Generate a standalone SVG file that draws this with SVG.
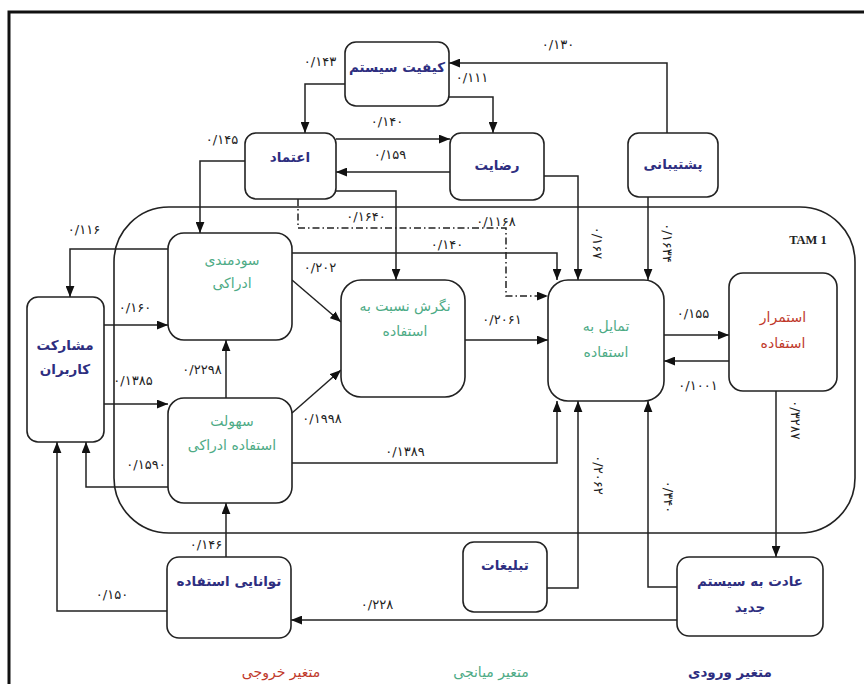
<svg xmlns="http://www.w3.org/2000/svg" width="864" height="684" viewBox="0 0 864 684">
<defs>
<marker id="ah" viewBox="0 0 10 8" refX="10" refY="4" markerWidth="11" markerHeight="9" markerUnits="userSpaceOnUse" orient="auto"><path d="M0,0 L10,4 L0,8 z" fill="#111"/></marker>
<style>
.box{fill:#fff;stroke:#222;stroke-width:1.6}
.c{fill:none;stroke:#222;stroke-width:1.5;marker-end:url(#ah)}
.dd{fill:none;stroke:#222;stroke-width:1.5;stroke-dasharray:7 3 1.5 3;marker-end:url(#ah)}
.lb{font-family:"DejaVu Sans",sans-serif;font-size:13px;fill:#222;text-anchor:middle}
.t{font-family:"DejaVu Sans",sans-serif;font-size:13.5px;font-weight:bold;text-anchor:middle}
.nv{fill:#2e2e80}
.gr{fill:#4eab86;font-weight:normal;font-size:14px}
.rd{fill:#c0392b;font-weight:normal;font-size:14px}
</style>
</defs>
<rect x="0" y="0" width="864" height="684" fill="#fff"/>
<path d="M9,684 V12 H864" fill="none" stroke="#111" stroke-width="3"/>
<rect x="114" y="207" width="741" height="326" rx="55" fill="none" stroke="#222" stroke-width="1.6"/>
<text x="808" y="244" font-family="Liberation Serif,serif" font-size="12.5" font-weight="bold" text-anchor="middle" fill="#222">TAM 1</text>

<g id="connectors">
<path class="c" d="M667,133 V63 H449"/>
<path class="c" d="M345,84 H305 V133"/>
<path class="c" d="M449,97 H493 V133"/>
<path class="c" d="M336,139 H450"/>
<path class="c" d="M450,172 H336"/>
<path class="c" d="M245,161 H200 V233"/>
<path class="c" d="M336,191 H396 V280"/>
<path class="dd" d="M298,199 V228 H506 V296 H548"/>
<path class="c" d="M544,176 H578 V280"/>
<path class="c" d="M648,197 V280"/>
<path class="c" d="M292,253 H557 V280"/>
<path class="c" d="M168,249 H70 V297"/>
<path class="c" d="M292,280 L341,322"/>
<path class="c" d="M292,413 L341,370"/>
<path class="c" d="M465,340 H548"/>
<path class="c" d="M104,325 H168"/>
<path class="c" d="M104,404 H168"/>
<path class="c" d="M226,398 V340"/>
<path class="c" d="M292,463 H557 V401"/>
<path class="c" d="M168,487 H86 V442"/>
<path class="c" d="M167,611 H57 V442"/>
<path class="c" d="M226,557 V503"/>
<path class="c" d="M664,335 H729"/>
<path class="c" d="M729,361 H664"/>
<path class="c" d="M776,391 V557"/>
<path class="c" d="M547,588 H578 V401"/>
<path class="c" d="M677,587 H648 V401"/>
<path class="c" d="M677,620 H291"/>
</g>

<g id="labels">
<text class="lb" x="558" y="49">۰/۱۳۰</text>
<text class="lb" x="320" y="66">۰/۱۴۳</text>
<text class="lb" x="472" y="82">۰/۱۱۱</text>
<text class="lb" x="387" y="126">۰/۱۴۰</text>
<text class="lb" x="390" y="159">۰/۱۵۹</text>
<text class="lb" x="222" y="144">۰/۱۴۵</text>
<text class="lb" x="366" y="221">۰/۱۶۴۰</text>
<text class="lb" x="496" y="226">۰/۱۱۶۸</text>
<text class="lb" x="447" y="249">۰/۱۴۰</text>
<text class="lb" x="84" y="234">۰/۱۱۶</text>
<text class="lb" x="320" y="272">۰/۲۰۲</text>
<text class="lb" x="322" y="423">۰/۱۹۹۸</text>
<text class="lb" x="502" y="324">۰/۲۰۶۱</text>
<text class="lb" x="135" y="312">۰/۱۶۰</text>
<text class="lb" x="133" y="385">۰/۱۳۸۵</text>
<text class="lb" x="202" y="374">۰/۲۲۹۸</text>
<text class="lb" x="405" y="456">۰/۱۳۸۹</text>
<text class="lb" x="146" y="469">۰/۱۵۹۰</text>
<text class="lb" x="112" y="599">۰/۱۵۰</text>
<text class="lb" x="206" y="549">۰/۱۴۶</text>
<text class="lb" x="693" y="318">۰/۱۵۵</text>
<text class="lb" x="698" y="390">۰/۱۰۰۱</text>
<text class="lb" x="377" y="609">۰/۲۲۸</text>
<text class="lb" transform="translate(593,243) rotate(90)">۰/۱۶۷</text>
<text class="lb" transform="translate(663,243) rotate(90)">۰/۱۶۳۴</text>
<text class="lb" transform="translate(791,420) rotate(90)">۰/۳۲۸۷</text>
<text class="lb" transform="translate(594,475) rotate(90)">۰/۲۰۶۲</text>
<text class="lb" transform="translate(664,497) rotate(90)">۰/۳۴۰</text>
</g>

<g id="n-quality"><rect class="box" x="345" y="42" width="104" height="64" rx="11"/><text class="t nv" x="397" y="72">کیفیت سیستم</text></g>
<g id="n-trust"><rect class="box" x="245" y="133" width="91" height="66" rx="11"/><text class="t nv" x="290" y="162">اعتماد</text></g>
<g id="n-satisfaction"><rect class="box" x="450" y="133" width="94" height="67" rx="11"/><text class="t nv" x="497" y="170">رضایت</text></g>
<g id="n-support"><rect class="box" x="628" y="133" width="90" height="64" rx="11"/><text class="t nv" x="673" y="169">پشتیبانی</text></g>
<g id="n-usefulness"><rect class="box" x="168" y="233" width="124" height="107" rx="16"/><text class="t gr" x="232" y="265">سودمندی</text><text class="t gr" x="232" y="288">ادراکی</text></g>
<g id="n-participation"><rect class="box" x="27" y="297" width="77" height="145" rx="11"/><text class="t nv" x="65" y="350">مشارکت</text><text class="t nv" x="65" y="374">کاربران</text></g>
<g id="n-ease"><rect class="box" x="168" y="398" width="124" height="105" rx="16"/><text class="t gr" x="232" y="426">سهولت</text><text class="t gr" x="232" y="450">استفاده ادراکی</text></g>
<g id="n-attitude"><rect class="box" x="341" y="280" width="124" height="117" rx="20"/><text class="t gr" x="405" y="311">نگرش نسبت به</text><text class="t gr" x="405" y="336">استفاده</text></g>
<g id="n-intention"><rect class="box" x="548" y="280" width="116" height="121" rx="20"/><text class="t gr" x="606" y="331">تمایل به</text><text class="t gr" x="606" y="357">استفاده</text></g>
<g id="n-continuance"><rect class="box" x="729" y="273" width="108" height="118" rx="14"/><text class="t rd" x="783" y="322">استمرار</text><text class="t rd" x="783" y="348">استفاده</text></g>
<g id="n-ability"><rect class="box" x="167" y="557" width="124" height="81" rx="12"/><text class="t nv" x="229" y="586">توانایی استفاده</text></g>
<g id="n-ads"><rect class="box" x="463" y="542" width="84" height="70" rx="11"/><text class="t nv" x="505" y="570">تبلیغات</text></g>
<g id="n-habit"><rect class="box" x="677" y="557" width="146" height="79" rx="12"/><text class="t nv" x="750" y="586">عادت به سیستم</text><text class="t nv" x="750" y="612">جدید</text></g>

<g id="legend">
<text class="t nv" x="730" y="677" font-size="14">متغیر ورودی</text>
<text class="t gr" x="491" y="677">متغیر میانجی</text>
<text class="t rd" x="281" y="677">متغیر خروجی</text>
</g>
</svg>
